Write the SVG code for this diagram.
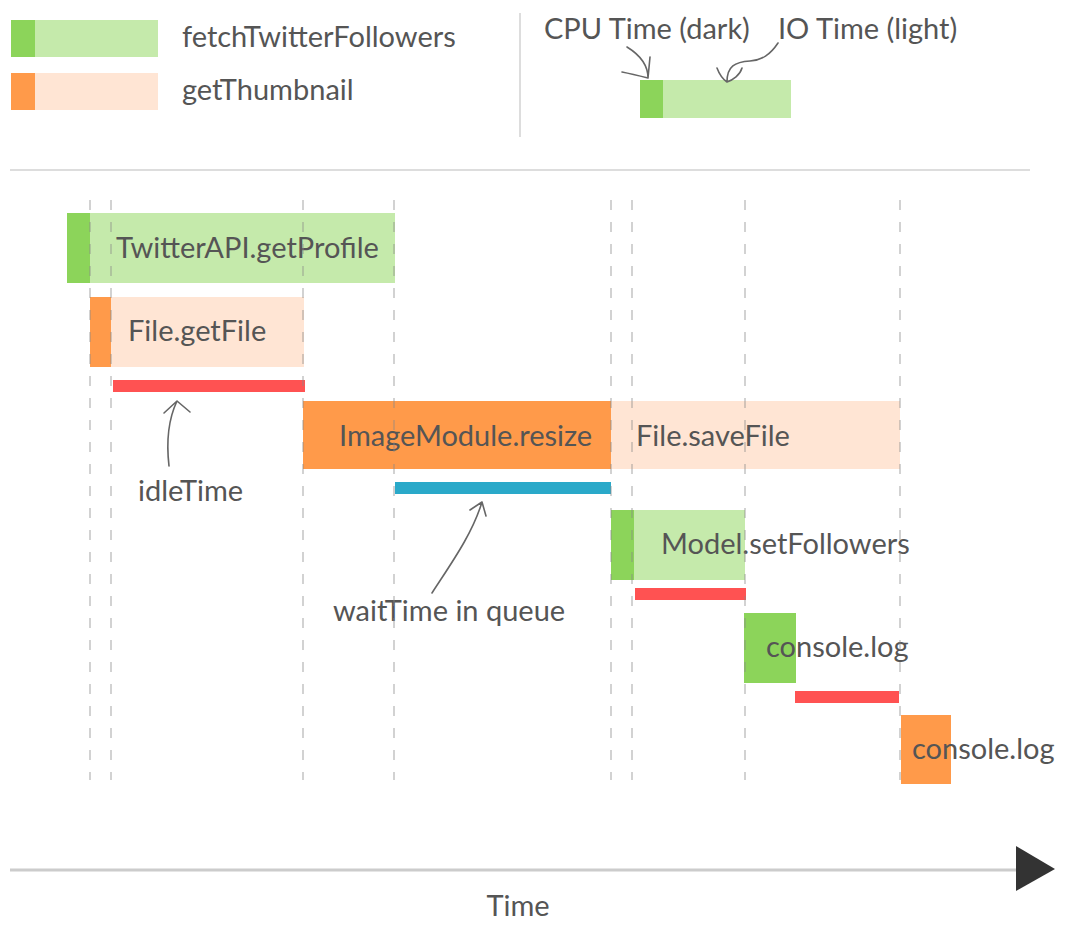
<svg xmlns="http://www.w3.org/2000/svg" width="1071" height="932" viewBox="0 0 1071 932">
<style>
  text { font-family: Lato, "Liberation Sans", sans-serif; fill: #555; font-size: 29px; }
  .dg { fill: #8cd45a; }
  .lg { fill: #c5eaab; }
  .do { fill: #ff9a4a; }
  .lo { fill: #ffe5d4; }
  .idle { fill: #ff5252; }
  .wait { fill: #2aa9c9; }
  .guide { stroke: #888; stroke-opacity: 0.5; stroke-width: 1.5; stroke-dasharray: 10 12; fill: none; }
  .hand { stroke: #666; stroke-width: 1.6; fill: none; stroke-linecap: round; stroke-linejoin: round; }
  .rule { stroke: #ddd; stroke-width: 2; }
</style>
<rect width="1071" height="932" fill="#fff"/>

<!-- legend -->
<g id="legend-fetch">
  <rect class="lg" x="11" y="20" width="147" height="37"/>
  <rect class="dg" x="11" y="20" width="24" height="37"/>
  <text x="182" y="47">fetchTwitterFollowers</text>
</g>
<g id="legend-thumb">
  <rect class="lo" x="11" y="73" width="147" height="37"/>
  <rect class="do" x="11" y="73" width="24" height="37"/>
  <text x="182" y="100">getThumbnail</text>
</g>
<line class="rule" x1="520" y1="13" x2="520" y2="137"/>
<g id="legend-cpu-io">
  <rect class="lg" x="640" y="80" width="151" height="38"/>
  <rect class="dg" x="640" y="80" width="23" height="38"/>
  <text x="544" y="39">CPU Time (dark)</text>
  <text x="778" y="39">IO Time (light)</text>
  <path class="hand" d="M627,47 C640,55 648,65 648,78 M622,72 C632,74 640,76 648,78 L650,57"/>
  <path class="hand" d="M778,43 C770,55 762,60 750,61 C735,62 727,66 727,82 M717,68 C720,76 724,80 727,82 C733,80 740,75 742,68"/>
</g>
<line class="rule" x1="10" y1="170" x2="1030" y2="170"/>

<g id="getProfile">
  <rect class="lg" x="67" y="213" width="328" height="70"/>
  <rect class="dg" x="67" y="213" width="23" height="70"/>
  <text x="116" y="258">TwitterAPI.getProfile</text>
</g>
<g id="getFile">
  <rect class="lo" x="90" y="297" width="214" height="70"/>
  <rect class="do" x="90" y="297" width="21" height="70"/>
  <text x="128" y="341">File.getFile</text>
</g>
<g id="idle1">
  <rect class="idle" x="113" y="380" width="192" height="12"/>
</g>
<g id="resize">
  <rect class="do" x="303" y="401" width="308" height="68"/>
  <text x="339" y="446">ImageModule.resize</text>
</g>
<g id="saveFile">
  <rect class="lo" x="611" y="401" width="289" height="68"/>
  <text x="636" y="446">File.saveFile</text>
</g>
<g id="wait">
  <rect class="wait" x="395" y="482" width="216" height="12"/>
</g>
<g id="idleTime-label">
  <text x="138" y="501">idleTime</text>
</g>
<g id="waitTime-label">
  <text x="333" y="621">waitTime in queue</text>
</g>
<g id="setFollowers">
  <rect class="lg" x="611" y="510" width="134" height="70"/>
  <rect class="dg" x="611" y="510" width="23" height="70"/>
  <text x="661" y="554">Model.setFollowers</text>
</g>
<g id="idle2">
  <rect class="idle" x="635" y="588" width="111" height="12"/>
</g>
<g id="consoleLog1">
  <rect class="dg" x="744" y="613" width="52" height="70"/>
  <text x="766" y="657">console.log</text>
</g>
<g id="idle3">
  <rect class="idle" x="795" y="691" width="104" height="12"/>
</g>
<g id="consoleLog2">
  <rect class="do" x="901" y="715" width="50" height="69"/>
  <text x="912" y="759">console.log</text>
</g>

<!-- guides -->
<g id="guides">
  <line class="guide" x1="90" y1="200" x2="90" y2="780"/>
  <line class="guide" x1="111" y1="200" x2="111" y2="780"/>
  <line class="guide" x1="303" y1="200" x2="303" y2="780"/>
  <line class="guide" x1="394" y1="200" x2="394" y2="780"/>
  <line class="guide" x1="611" y1="200" x2="611" y2="780"/>
  <line class="guide" x1="632" y1="200" x2="632" y2="780"/>
  <line class="guide" x1="745" y1="200" x2="745" y2="780"/>
  <line class="guide" x1="900" y1="200" x2="900" y2="780"/>
</g>

<g id="connectors">
  <path class="hand" d="M169,466 C166,440 169,418 177,401 M164,413 L177,401 L190,412"/>
  <path class="hand" d="M432,593 C450,565 472,535 482,502 M470,510 L482,502 L486,516"/>
</g>

<g id="axis">
  <line x1="10" y1="870" x2="1018" y2="870" stroke="#ccc" stroke-width="3"/>
  <polygon points="1016,846 1055,869 1016,891" fill="#333"/>
  <text x="518" y="916" text-anchor="middle" font-size="27">Time</text>
</g>
</svg>
